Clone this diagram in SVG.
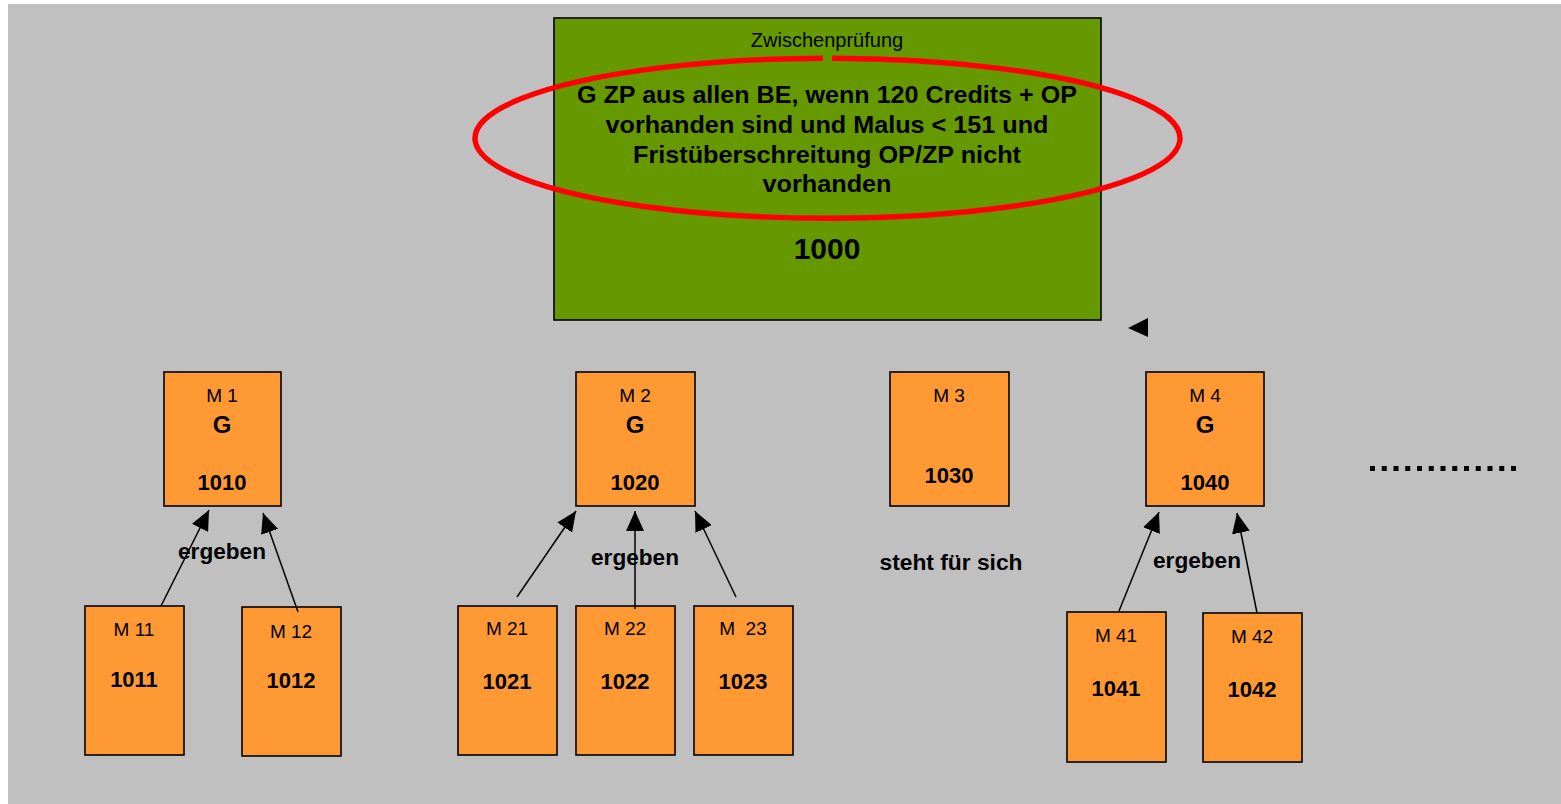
<svg xmlns="http://www.w3.org/2000/svg" width="1561" height="804" viewBox="0 0 1561 804">
<defs>
<style>
text{font-family:"Liberation Sans",Arial,Helvetica,sans-serif;fill:#000;text-anchor:middle}
.small{font-size:19px}
.big{font-size:24px;font-weight:bold}
.num{font-size:22px;font-weight:bold}
.lbl{font-size:22px;font-weight:bold}
.head{font-size:24px;font-weight:bold}
.box{fill:#FF9933;stroke:#000;stroke-width:1.6}
.conn{stroke:#000;stroke-width:1.5;fill:none;marker-end:url(#arr)}
</style>
<marker id="arr" markerUnits="userSpaceOnUse" viewBox="0 0 20 18" refX="20" refY="9" markerWidth="20" markerHeight="18" orient="auto">
<path d="M0,0 L20,9 L0,18 Z" fill="#000"/>
</marker>
</defs>
<rect x="0" y="0" width="1561" height="804" fill="#fff"/>
<rect x="8" y="4" width="1553" height="800" fill="#C0C0C0"/>

<g id="zp">
<rect x="554" y="18" width="547" height="302" fill="#669900" stroke="#000" stroke-width="1.6"/>
<text x="827" y="47" style="font-size:20px">Zwischenprüfung</text>
<path d="M832,58.2 A352.5,80 0 1 1 823,58.2" fill="none" stroke="#FF0000" stroke-width="5.4"/>
<text class="head" x="827" y="102.5" textLength="500" lengthAdjust="spacingAndGlyphs">G ZP aus allen BE, wenn 120 Credits + OP</text>
<text class="head" x="827" y="132.5" textLength="443" lengthAdjust="spacingAndGlyphs">vorhanden sind und Malus &lt; 151 und</text>
<text class="head" x="827" y="162.5" textLength="388" lengthAdjust="spacingAndGlyphs">Fristüberschreitung OP/ZP nicht</text>
<text class="head" x="827" y="192" textLength="129" lengthAdjust="spacingAndGlyphs">vorhanden</text>
<text x="827" y="259" style="font-size:30px;font-weight:bold">1000</text>
</g>

<g id="m1">
<rect class="box" x="164" y="372" width="117" height="134"/>
<text class="small" x="222" y="402">M 1</text>
<text class="big" x="222" y="433">G</text>
<text class="num" x="222" y="490">1010</text>
</g>
<g id="m11">
<rect class="box" x="85" y="606" width="99" height="149"/>
<text class="small" x="134" y="636">M 11</text>
<text class="num" x="134" y="687">1011</text>
</g>
<g id="m12">
<rect class="box" x="242" y="607" width="99" height="149"/>
<text class="small" x="291" y="638">M 12</text>
<text class="num" x="291" y="688">1012</text>
</g>

<g id="m2">
<rect class="box" x="576" y="372" width="119" height="134"/>
<text class="small" x="635" y="402">M 2</text>
<text class="big" x="635" y="433">G</text>
<text class="num" x="635" y="490">1020</text>
</g>
<g id="m21">
<rect class="box" x="458" y="606" width="99" height="149"/>
<text class="small" x="507" y="635">M 21</text>
<text class="num" x="507" y="689">1021</text>
</g>
<g id="m22">
<rect class="box" x="576" y="606" width="99" height="149"/>
<text class="small" x="625" y="635">M 22</text>
<text class="num" x="625" y="689">1022</text>
</g>
<g id="m23">
<rect class="box" x="694" y="606" width="99" height="149"/>
<text class="small" x="743" y="635" xml:space="preserve">M  23</text>
<text class="num" x="743" y="689">1023</text>
</g>

<g id="m3">
<rect class="box" x="890" y="372" width="119" height="134"/>
<text class="small" x="949" y="402">M 3</text>
<text class="num" x="949" y="483">1030</text>
</g>

<g id="m4">
<rect class="box" x="1146" y="372" width="118" height="134"/>
<text class="small" x="1205" y="402">M 4</text>
<text class="big" x="1205" y="433">G</text>
<text class="num" x="1205" y="490">1040</text>
</g>
<g id="m41">
<rect class="box" x="1067" y="612" width="99" height="150"/>
<text class="small" x="1116" y="642">M 41</text>
<text class="num" x="1116" y="696">1041</text>
</g>
<g id="m42">
<rect class="box" x="1203" y="613" width="99" height="149"/>
<text class="small" x="1252" y="643">M 42</text>
<text class="num" x="1252" y="697">1042</text>
</g>

<g id="labels">
<text class="lbl" x="222" y="559" textLength="88" lengthAdjust="spacingAndGlyphs">ergeben</text>
<text class="lbl" x="635" y="565" textLength="88" lengthAdjust="spacingAndGlyphs">ergeben</text>
<text class="lbl" x="1197" y="568" textLength="88" lengthAdjust="spacingAndGlyphs">ergeben</text>
<text class="lbl" x="951" y="570" textLength="143" lengthAdjust="spacingAndGlyphs">steht für sich</text>
<line x1="1370" y1="468.5" x2="1517" y2="468.5" stroke="#000" stroke-width="5" stroke-dasharray="5 6.75"/>
</g>

<g id="connectors">
<line class="conn" x1="161" y1="606" x2="209" y2="510"/>
<line class="conn" x1="298" y1="612" x2="263" y2="513"/>
<line class="conn" x1="517" y1="597" x2="576" y2="511"/>
<line class="conn" x1="635" y1="609" x2="635" y2="511"/>
<line class="conn" x1="736" y1="597" x2="695" y2="511"/>
<line class="conn" x1="1119" y1="611" x2="1159" y2="512"/>
<line class="conn" x1="1257" y1="613" x2="1237" y2="513"/>
<path d="M1128,328 L1148,318 L1148,337 Z" fill="#000"/>
</g>
</svg>
